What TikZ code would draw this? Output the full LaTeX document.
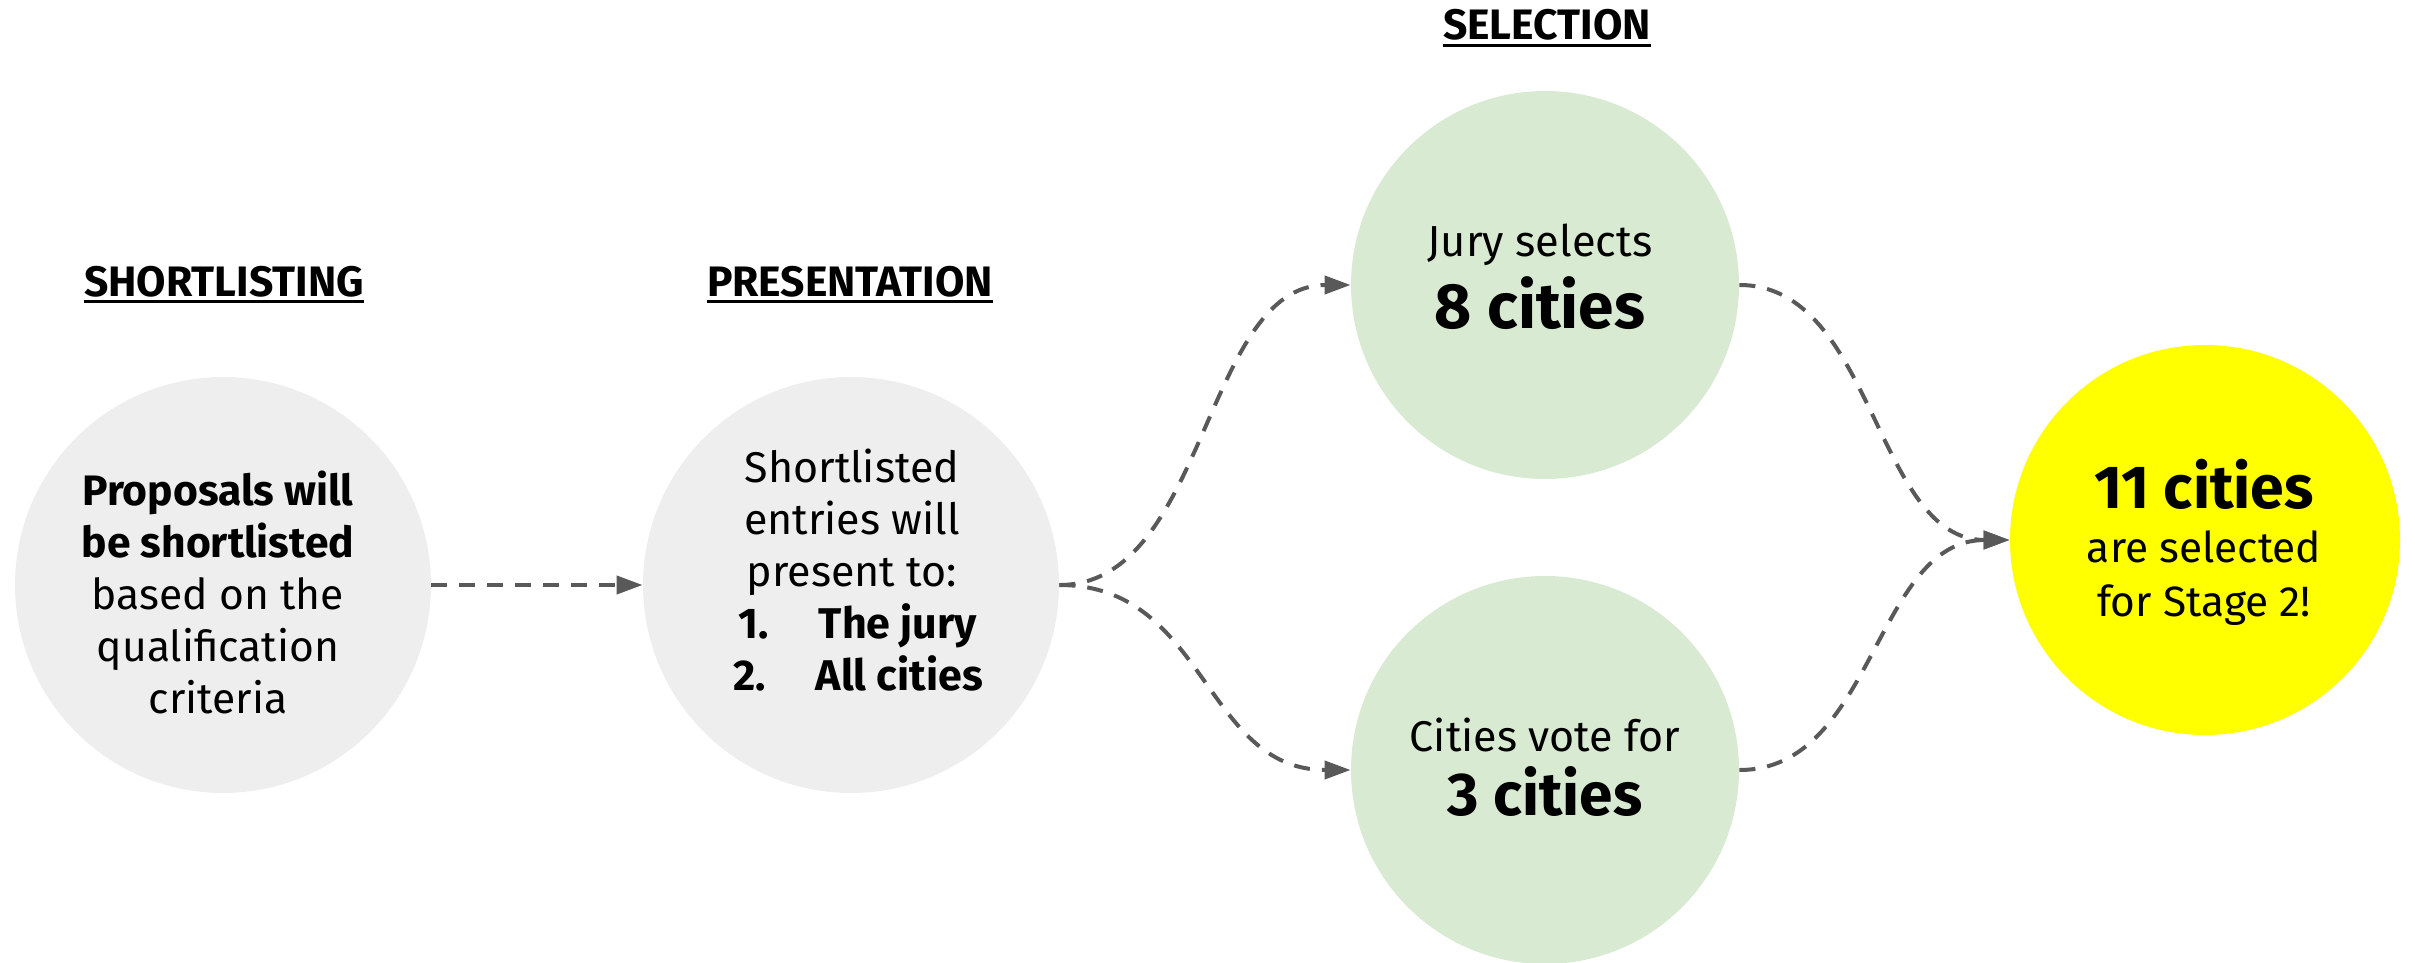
\documentclass[tikz,border=0pt]{standalone}
\usepackage{fontspec}
\setmainfont{Fira Sans}
\usetikzlibrary{arrows.meta,calc}
\definecolor{cgray}{HTML}{EEEEEE}
\definecolor{cgreen}{HTML}{D9EAD3}
\definecolor{cyellow}{HTML}{FFFF00}
\definecolor{arrowgray}{HTML}{595959}
\begin{document}
\begin{tikzpicture}[x=0.5pt,y=-0.5pt,
  bubble/.style={circle,inner sep=0pt,draw=none},
  txt/.style={align=center,inner sep=0pt,text=black},
  conn/.style={draw=arrowgray,line width=2pt,dash pattern=on 8pt off 6pt,-{Triangle[length=13pt,width=9pt]}},
  heading/.style={inner sep=0pt,anchor=base,font=\bfseries\fontsize{21.3}{26}\selectfont},
  uline/.style={line width=1.5pt,black}]
\useasboundingbox (0,0) rectangle (2415,963);
% circles
\node[bubble,fill=cgray,minimum size=208pt] (c1) at (223,585) {};
\node[bubble,fill=cgray,minimum size=208pt] (c2) at (851,585) {};
\node[bubble,fill=cgreen,minimum size=194pt] (c3) at (1545,285) {};
\node[bubble,fill=cgreen,minimum size=194pt] (c4) at (1545,770) {};
\node[bubble,fill=cyellow,minimum size=195pt] (c5) at (2205,540) {};
% texts
\node[txt,font=\fontsize{21.3}{26}\selectfont] (t1) at (218,592)
  {\textbf{Proposals will}\\\textbf{be shortlisted}\\based on the\\qualification\\criteria};
\node[txt,font=\fontsize{21.5}{26}\selectfont] (t2) at (852,570)
  {Shortlisted\\entries will\\present to:\\\hspace*{6pt}\textbf{1.\hspace{25pt}The jury}\\\hspace*{6pt}\textbf{2.\hspace{25pt}All cities}};
\node[txt,font=\fontsize{21.7}{36}\selectfont] (t3) at (1540,277)
  {Jury selects\\{\bfseries\fontsize{32}{36}\selectfont 8 cities}};
\node[txt,font=\fontsize{21.5}{32}\selectfont] (t4) at (1545,767)
  {Cities vote for\\{\bfseries\fontsize{30.2}{32}\selectfont 3 cities}};
\node[txt,font=\fontsize{21.2}{27}\selectfont] (t5) at (2204,542)
  {{\bfseries\fontsize{30.4}{27}\selectfont 11 cities}\\are selected\\for Stage 2!};
% headings
\node[heading] (h1) at (224,296) {SHORTLISTING};
\node[heading] (h2) at (850,296) {PRESENTATION};
\node[heading] (h3) at (1547,40) {SELECTION};
\foreach \h in {h1,h2,h3}
  \draw[uline] ([yshift=-2.75pt]\h.base west) -- ([yshift=-2.75pt]\h.base east);
% connectors
\draw[conn] (c1.east) -- (c2.west);
\draw[conn] (c2.east) .. controls ($(c2.east)+(147,0)$) and ($(c3.west)+(-147,0)$) .. (c3.west);
\draw[conn] (c2.east) .. controls ($(c2.east)+(147,0)$) and ($(c4.west)+(-147,0)$) .. (c4.west);
\draw[conn] (c3.east) .. controls ($(c3.east)+(135,0)$) and ($(c5.west)+(-135,0)$) .. (c5.west);
\draw[conn] (c4.east) .. controls ($(c4.east)+(135,0)$) and ($(c5.west)+(-135,0)$) .. (c5.west);
\end{tikzpicture}
\end{document}
